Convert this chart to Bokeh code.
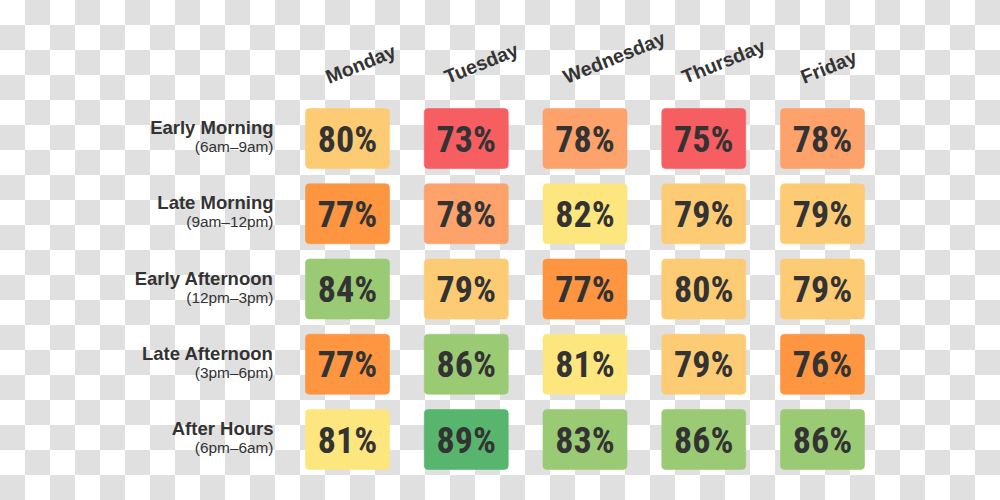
from bokeh.plotting import figure
from bokeh.models import Range1d, ColumnDataSource
from bokeh.core.properties import value
from bokeh.embed import file_html
from bokeh.resources import INLINE

days = ["Monday", "Tuesday", "Wednesday", "Thursday", "Friday"]
periods = ["Early Morning", "Late Morning", "Early Afternoon", "Late Afternoon", "After Hours"]
period_hours = ["(6am–9am)", "(9am–12pm)", "(12pm–3pm)", "(3pm–6pm)", "(6pm–6am)"]
monday = [80, 77, 84, 77, 81]
tuesday = [73, 78, 79, 86, 89]
wednesday = [78, 82, 77, 81, 83]
thursday = [75, 79, 80, 79, 86]
friday = [78, 79, 79, 76, 86]
series = [monday, tuesday, wednesday, thursday, friday]


def color_for(v):
    if v <= 75:
        return "#F65E62"
    if v <= 77:
        return "#FD9541"
    if v <= 78:
        return "#FCA26A"
    if v <= 80:
        return "#FECB75"
    if v <= 82:
        return "#FEE67E"
    if v <= 86:
        return "#9ACB74"
    return "#57B56E"


COL_PX = 118.75
ROW_PX = 75.25
X0_PX = 347.0
Y0_PX = 138.0
W, H = 1000, 500
CW = 84 / COL_PX
CH = 60 / ROW_PX

xs, ys, labels, colors = [], [], [], []
for ci, col in enumerate(series):
    for ri, v in enumerate(col):
        xs.append(ci)
        ys.append(ri)
        labels.append(f"{v}%")
        colors.append(color_for(v))

src = ColumnDataSource(dict(
    x=xs, y=ys, label=labels, color=colors,
    left=[x - CW / 2 for x in xs], right=[x + CW / 2 for x in xs],
    top=[y - CH / 2 for y in ys], bottom=[y + CH / 2 for y in ys],
))

x_start = -X0_PX / COL_PX
y_top = -Y0_PX / ROW_PX
p = figure(width=W, height=H,
           x_range=Range1d(x_start, x_start + W / COL_PX),
           y_range=Range1d(y_top + H / ROW_PX, y_top),
           output_backend="svg", toolbar_location=None,
           x_axis_location=None, y_axis_location=None, min_border=0)
p.grid.visible = False
p.outline_line_color = None
p.background_fill_alpha = 0
p.border_fill_alpha = 0
p.styles = {
    "background-image": "repeating-conic-gradient(#e0e0e0 0% 25%, #ffffff 0% 50%)",
    "background-size": "50px 50px",
}

p.quad(left="left", right="right", top="top", bottom="bottom", source=src,
       fill_color="color", line_color="color", line_alpha=0.6, border_radius=4)

p.text(x="x", y="y", text="label", source=src, text_align="center",
       text_baseline="middle", text_font=value("Roboto Condensed"),
       text_font_style="bold", text_font_size="36px", text_color="#333333", y_offset=1)

day_src = ColumnDataSource(dict(x=list(range(len(days))), y=[-0.731] * len(days), text=days))
p.text(x="x", y="y", text="text", source=day_src, text_align="left",
       text_baseline="alphabetic", angle=22, angle_units="deg", x_offset=-21, y_offset=-6,
       text_font=value("Liberation Sans"), text_font_style="bold",
       text_font_size="19.5px", text_color="#333333")

row_src = ColumnDataSource(dict(x=[0] * len(periods), y=list(range(len(periods))),
                                title=periods, sub=period_hours))
p.text(x="x", y="y", text="title", source=row_src, text_align="right",
       text_baseline="alphabetic", x_offset=-74, y_offset=-11,
       text_font=value("Liberation Sans"), text_font_style="bold",
       text_font_size="18.5px", text_color="#333333")
p.text(x="x", y="y", text="sub", source=row_src, text_align="right",
       text_baseline="alphabetic", x_offset=-74, y_offset=8,
       text_font=value("Liberation Sans"), text_font_size="15.4px", text_color="#333333")

open("out.html", "w").write(file_html(p, INLINE))
